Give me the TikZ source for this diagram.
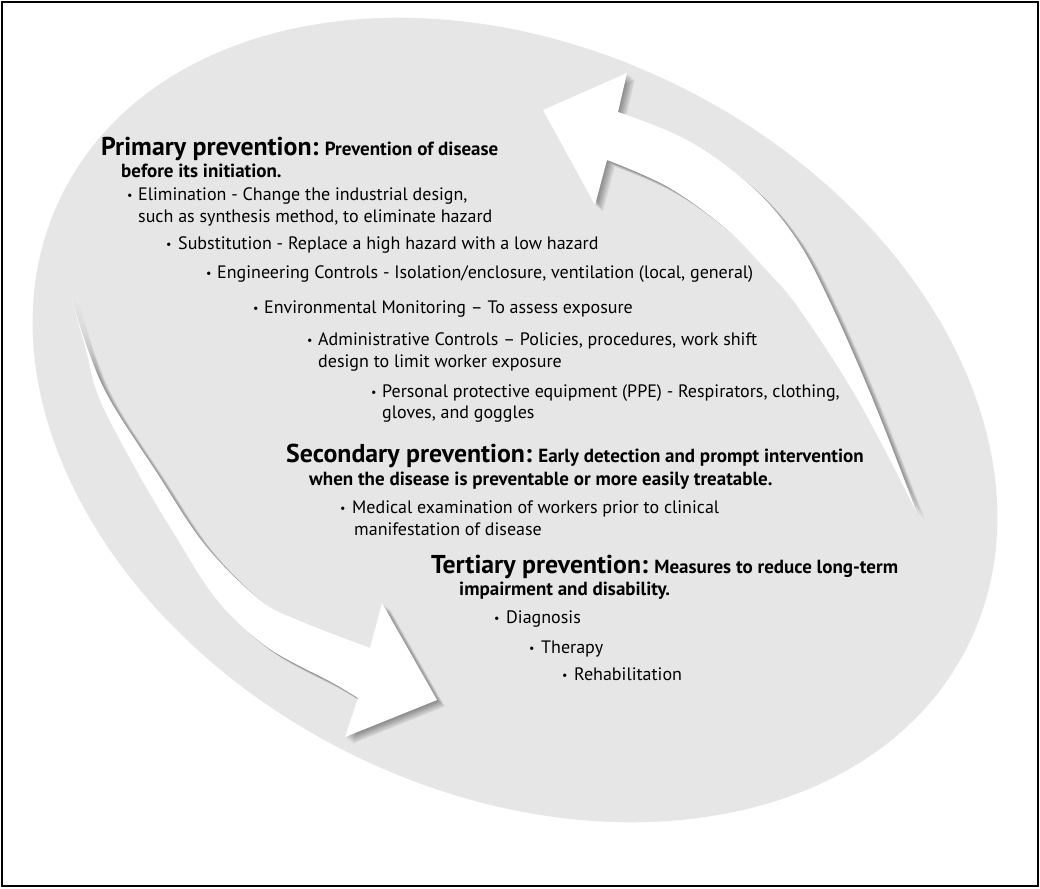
\documentclass[tikz,border=0pt]{standalone}
\usepackage{fontspec}
\setmainfont{PT Sans}
\definecolor{blobgray}{HTML}{E6E6E6}
\newcommand\rarrowpath{plot[smooth,tension=0.6] coordinates {(917,513) (873,400) (829,300) (795,237) (750,185) (687,140) (618,112)} -- (627,73) -- (543,110) -- (595,205) -- plot[smooth,tension=0.6] coordinates {(607,160) (668,187) (725,228) (768,272) (800,310) (858,400) (917,513)} -- cycle}
\newcommand\larrowpath{plot[smooth,tension=0.6] coordinates {(72,300) (86,350) (100,400) (138,473) (175,535) (217,600) (267,647) (333,683) (358,698)} -- (345,737) -- (437,700) -- (382,603) -- plot[smooth,tension=0.6] coordinates {(370,648) (300,621) (260,600) (205,545) (157,473) (110,400) (88,350) (72,300)} -- cycle}
\begin{document}
\begin{tikzpicture}[x=1pt,y=-1pt,
  body/.style={anchor=base west, inner sep=0pt, font=\fontsize{18}{21}\selectfont},
  bul/.style={anchor=base west, inner sep=0pt, font=\fontsize{12}{14}\selectfont},
  subhead/.style={anchor=base west, inner sep=0pt, font=\bfseries\fontsize{19}{22}\selectfont},
  shadowfill/.style={fill=black, opacity=0.055},
]
\newcommand\bighead[1]{{\fontsize{25.8}{30}\selectfont #1}}
\useasboundingbox (0,0) rectangle (1040,888);
\fill[white] (0,0) rectangle (1040,888);
% gray blob
\fill[blobgray, rotate around={-26.5:(515,420)}] (515,420) ellipse (506 and 372);
% soft shadows of the arrows
\foreach \dx/\dy in {1/1,2/2,3/2.5,4/3.5,5/4,6/5,7/6,8/6.5} {
  \begin{scope}[shift={(\dx,\dy)}]
    \fill[shadowfill] \rarrowpath;
    \fill[shadowfill] \larrowpath;
  \end{scope}
}
% arrows
\fill[white] \rarrowpath;
\fill[white] \larrowpath;
% border
\draw[line width=2pt] (2,2) rectangle (1038,886);
% texts
\node[subhead] (p1) at (101,155) {\bighead{Primary prevention:} Prevention of disease};
\node[subhead] (p2) at (121,177) {before its initiation.};
\node[bul] (b1) at (127,199) {\textbullet};
\node[body] (p3) at (138,200) {Elimination - Change the industrial design,};
\node[body] (p4) at (138,222) {such as synthesis method, to eliminate hazard};
\node[bul] (b2) at (166,248) {\textbullet};
\node[body] (p5) at (178,249) {Substitution - Replace a high hazard with a low hazard};
\node[bul] (b3) at (206,277) {\textbullet};
\node[body] (p6) at (217,278) {Engineering Controls - Isolation/enclosure, ventilation (local, general)};
\node[bul] (b4) at (253,312) {\textbullet};
\node[body] (p7) at (264,313) {Environmental Monitoring – To assess exposure};
\node[bul] (b5) at (307,344) {\textbullet};
\node[body] (p8) at (318,345) {Administrative Controls – Policies, procedures, work shift};
\node[body] (p9) at (318,367) {design to limit worker exposure};
\node[bul] (b6) at (371,396) {\textbullet};
\node[body] (p10) at (382,397) {Personal protective equipment (PPE) - Respirators, clothing,};
\node[body] (p11) at (382,418) {gloves, and goggles};
\node[subhead] (s1) at (286,462) {\bighead{Secondary prevention:} Early detection and prompt intervention};
\node[subhead] (s2) at (309,485) {when the disease is preventable or more easily treatable.};
\node[bul] (b7) at (340,512) {\textbullet};
\node[body] (s3) at (352,513) {Medical examination of workers prior to clinical};
\node[body] (s4) at (354,535) {manifestation of disease};
\node[subhead] (t1) at (431,573) {\bighead{Tertiary prevention:} Measures to reduce long-term};
\node[subhead] (t2) at (459,595) {impairment and disability.};
\node[bul] (b8) at (494,622) {\textbullet};
\node[body] (t3) at (506,623) {Diagnosis};
\node[bul] (b9) at (529,652) {\textbullet};
\node[body] (t4) at (541,653) {Therapy};
\node[bul] (b10) at (562,679) {\textbullet};
\node[body] (t5) at (574,680) {Rehabilitation};
\end{tikzpicture}
\end{document}
